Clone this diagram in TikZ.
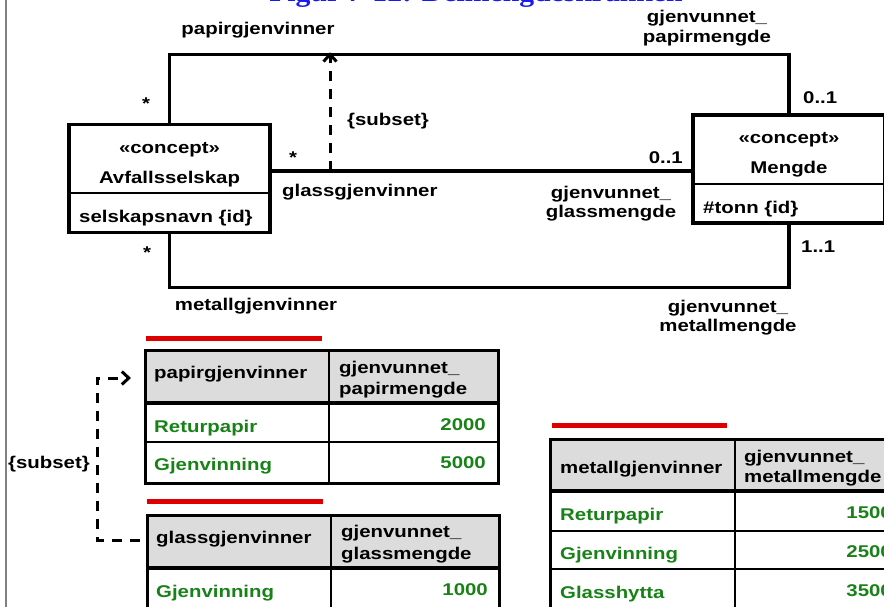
\documentclass[tikz,border=0pt]{standalone}
\usepackage{fontspec}
\setmainfont{Liberation Sans}[FakeStretch=1.2]
\newfontfamily\titlefont{Liberation Serif}[FakeStretch=1.1]
\usetikzlibrary{arrows.meta}
\definecolor{grn}{RGB}{24,130,24}
\definecolor{hdr}{RGB}{220,220,220}
\definecolor{redl}{RGB}{222,0,0}
\definecolor{ttl}{RGB}{25,25,240}
\begin{document}
\begin{tikzpicture}[x=1pt,y=-1pt,
  every node/.style={font=\fontsize{17}{20}\selectfont\bfseries, inner sep=0pt},
  lb/.style={anchor=base},
  lbw/.style={anchor=base west},
  lbe/.style={anchor=base east},
  val/.style={anchor=base west, text=grn},
  num/.style={anchor=base east, text=grn},
  cls/.style={draw, line width=3.4pt},
  assoc/.style={line width=3.4pt},
  dsh/.style={line width=3pt, dash pattern=on 10pt off 8pt},
  tip/.style={-{Straight Barb[length=7pt,width=13pt]}},
  tbl/.style={draw, line width=3.4pt, anchor=north west},
  thin/.style={line width=2.3pt},
  redbar/.style={redl, line width=5pt}]
\useasboundingbox (0,0) rectangle (884,606);
\fill[white] (0,0) rectangle (884,606);
% left frame line
\draw[gray, line width=1.5pt] (6,-5) -- (6,615);
% clipped title
\node[lb, text=ttl, font=\titlefont\fontsize{27}{30}\selectfont\bfseries] (title) at (476,1) {Figur 7-12: Delmengdeskranken};

% classes
\node[cls, minimum width=201pt, minimum height=108pt] (avf) at (169.5,178.5) {};
\draw[thin] (avf.west |- 0,193) -- (avf.east |- 0,193);
\node[lb] (avfs) at (169.5,153) {«concept»};
\node[lb] (avfn) at (169.5,183) {Avfallsselskap};
\node[lbw] (avfa) at (79,222) {selskapsnavn \{id\}};

\node[cls, minimum width=192pt, minimum height=108pt] (men) at (789,169) {};
\draw[thin] (men.west |- 0,184) -- (men.east |- 0,184);
\node[lb] (mens) at (789,143) {«concept»};
\node[lb] (menn) at (789,173) {Mengde};
\node[lbw] (mena) at (703,213) {\#tonn \{id\}};

% associations
\path (avf.north) ++(0,-68.5) coordinate (tl);
\draw[assoc] (avf.north) -- (tl) -| (men.north);
\coordinate (gl) at (330,171);
\draw[assoc] (avf.east |- gl) -- (men.west |- gl);
\path (avf.south) ++(0,53.5) coordinate (bl);
\draw[assoc] (avf.south) -- (bl) -| (men.south);
\draw[dsh, tip] (gl) -- ([yshift=2pt]gl |- tl);

% association labels
\node[lb] (l1) at (258,34) {papirgjenvinner};
\node[lb] (l2) at (707,22) {gjenvunnet\_};
\node[lb] (l3) at (707,42) {papirmengde};
\node (s1) at (146,104) {*};
\node[lbw] (m1) at (803,103) {0..1};
\node[lbw] (sub1) at (347,125) {\{subset\}};
\node (s2) at (293,158) {*};
\node[lbw] (l4) at (282,196) {glassgjenvinner};
\node[lbe] (m2) at (683,163) {0..1};
\node[lb] (l5) at (611,198) {gjenvunnet\_};
\node[lb] (l6) at (611,217) {glassmengde};
\node (s3) at (147,253) {*};
\node[lb] (l7) at (256,310) {metallgjenvinner};
\node[lbw] (m3) at (801,252) {1..1};
\node[lb] (l8) at (728,312) {gjenvunnet\_};
\node[lb] (l9) at (728,331) {metallmengde};

% table 1
\draw[redbar] (146,338) -- (322,338);
\fill[hdr] (144,349) rectangle (497,403);
\draw[thin] (329,349) -- (329,482);
\draw[thin] (144,442) -- (497,442);
\draw[assoc] (144,403) -- (497,403);
\node[tbl, minimum width=353pt, minimum height=133pt] (t1) at (144,349) {};
\node[lbw] at (154,378) {papirgjenvinner};
\node[lbw] at (339,373) {gjenvunnet\_};
\node[lbw] at (339,394) {papirmengde};
\node[val] at (154,432) {Returpapir};
\node[num] at (486,430) {2000};
\node[val] at (154,470) {Gjenvinning};
\node[num] at (486,468) {5000};

% table 2
\draw[redbar] (147,501) -- (323,501);
\fill[hdr] (146,514) rectangle (498,568);
\draw[thin] (331,514) -- (331,640);
\draw[thin] (146,608) -- (498,608);
\draw[assoc] (146,568) -- (498,568);
\node[tbl, minimum width=352pt, minimum height=130pt] (t2) at (146,514) {};
\node[lbw] at (156,543) {glassgjenvinner};
\node[lbw] at (341,537) {gjenvunnet\_};
\node[lbw] at (341,559) {glassmengde};
\node[val] at (156,597) {Gjenvinning};
\node[num] at (488,595) {1000};

% table 3
\draw[redbar] (552,425) -- (727,425);
\fill[hdr] (549,438) rectangle (902,491);
\draw[thin] (735,438) -- (735,640);
\draw[thin] (549,531) -- (902,531);
\draw[thin] (549,569) -- (902,569);
\draw[assoc] (549,491) -- (902,491);
\node[tbl, minimum width=353pt, minimum height=200pt] (t3) at (549,438) {};
\node[lbw] at (560,473) {metallgjenvinner};
\node[lbw] at (744,462) {gjenvunnet\_};
\node[lbw] at (744,482) {metallmengde};
\node[val] at (560,520) {Returpapir};
\node[num] at (892,518) {1500};
\node[val] at (560,559) {Gjenvinning};
\node[num] at (892,557) {2500};
\node[val] at (560,598) {Glasshytta};
\node[num] at (892,596) {3500};

% subset constraint between tables
\coordinate (b1) at ([xshift=-13pt]t1.west |- 0,378);
\coordinate (b2) at ([xshift=-6pt]t2.west |- 0,540);
\draw[dsh, tip] (b2) -- ++(-43,0) |- (b1);
\node[lb] (sub2) at (49,468) {\{subset\}};
\end{tikzpicture}
\end{document}
